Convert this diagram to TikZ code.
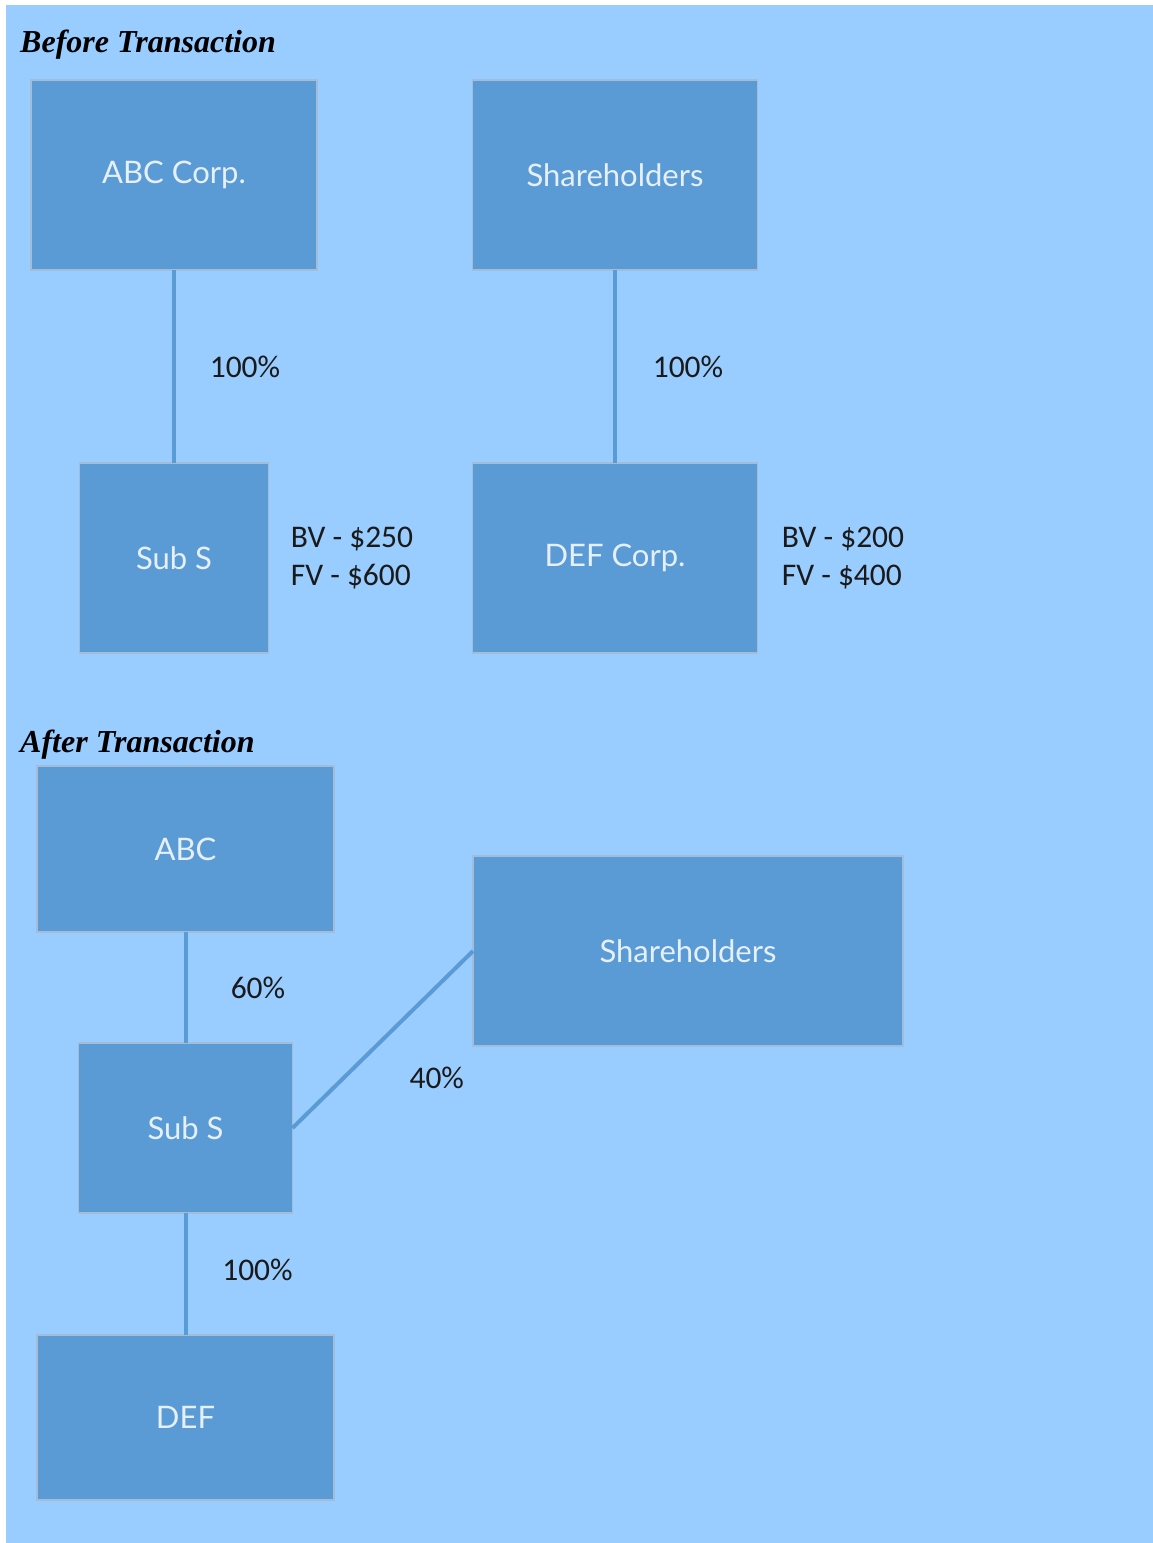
\documentclass[tikz,border=0pt]{standalone}
\usepackage{fontspec}
\setmainfont{Liberation Serif}
\newfontfamily\boxfont{Lato}
\newfontfamily\pctfont{Carlito}
\usepackage{tkz-graph}
\definecolor{paneblue}{HTML}{99CCFF}
\definecolor{boxblue}{HTML}{5B9BD5}
\definecolor{boxline}{HTML}{A4BCD6}
\definecolor{boxtext}{HTML}{E6F0FA}
\definecolor{pcttext}{HTML}{1A1A1A}

\begin{document}
\begin{tikzpicture}[x=1pt,y=-1pt]
\fill[white] (0,0) rectangle (1153,1543);
\fill[paneblue] (6,5) rectangle (1153,1543);
\useasboundingbox (0,0) rectangle (1153,1543);
\GraphInit[vstyle=Normal]
\tikzset{VertexStyle/.style={rectangle, draw=boxline, line width=1.5pt, fill=boxblue,
  text=boxtext, font=\boxfont\fontsize{31}{37}\selectfont, inner sep=0pt}}
\tikzset{EdgeStyle/.style={draw=boxblue, line width=4pt}}
\tikzset{LabelStyle/.style={fill=none, text=pcttext, inner sep=0pt,
  font=\pctfont\fontsize{31.5}{38}\selectfont}}
\tikzset{NoteStyle/.style={align=left, text=pcttext, inner sep=0pt,
  font=\pctfont\fontsize{31.5}{38}\selectfont}}
\tikzset{TitleStyle/.style={anchor=base west, inner sep=0pt,
  font=\bfseries\itshape\fontsize{32}{38}\selectfont}}
% before
\node[TitleStyle] (titlebefore) at (20,52) {Before Transaction};
\Vertex[x=174,y=175,L={ABC Corp.},style={minimum width=286pt,minimum height=190pt}]{abc}
\Vertex[x=615,y=175,L={Shareholders},style={minimum width=285pt,minimum height=190pt}]{shtop}
\Vertex[x=174,y=558,L={Sub S},style={minimum width=189pt,minimum height=190pt}]{subtop}
\Vertex[x=615,y=558,L={DEF Corp.},style={minimum width=285pt,minimum height=190pt}]{def}
\Edge[label=100\%, labelstyle={xshift=71pt}](abc)(subtop)
\Edge[label=100\%, labelstyle={xshift=73pt}](shtop)(def)
\node[NoteStyle] (bvsub) at (352,558) {BV - \$250\\FV - \$600};
\node[NoteStyle] (bvdef) at (843,558) {BV - \$200\\FV - \$400};
% after
\node[TitleStyle] (titleafter) at (20,752) {After Transaction};
\Vertex[x=185.5,y=849,L={ABC},style={minimum width=297pt,minimum height=166pt}]{abcnew}
\Vertex[x=688,y=951,L={Shareholders},style={minimum width=430pt,minimum height=190pt}]{shnew}
\Vertex[x=185.5,y=1128,L={Sub S},style={minimum width=214pt,minimum height=170pt}]{subnew}
\Vertex[x=185.5,y=1417.5,L={DEF},style={minimum width=297pt,minimum height=165pt}]{defnew}
\Edge[label=60\%, labelstyle={xshift=72.5pt}](abcnew)(subnew)
\Edge[label=40\%, labelstyle={xshift=54pt,yshift=-38.5pt}](subnew.east)(shnew.west)
\Edge[label=100\%, labelstyle={xshift=72pt,yshift=4pt}](subnew)(defnew)
\end{tikzpicture}
\end{document}
